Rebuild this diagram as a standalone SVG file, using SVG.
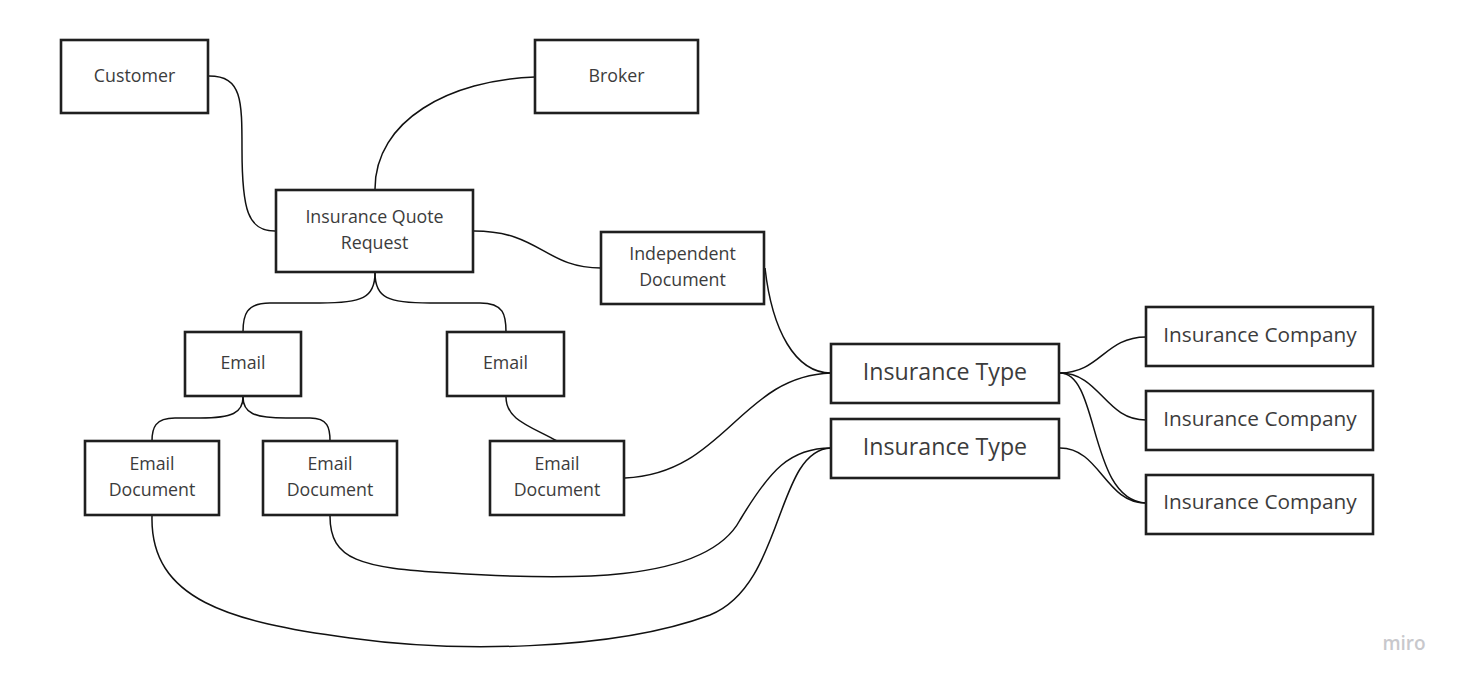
<svg xmlns="http://www.w3.org/2000/svg" width="1461" height="683" viewBox="0 0 1461 683">
<style>
.box{fill:#fff;stroke:#1f1f1f;stroke-width:2.6}
.t{font-family:"Open Sans","Noto Sans",sans-serif;font-size:17.8px;fill:#3c3c3c;text-anchor:middle}
.tl{font-family:"Open Sans","Noto Sans",sans-serif;font-size:23.2px;fill:#3c3c3c;text-anchor:middle}
.tm{font-family:"Open Sans","Noto Sans",sans-serif;font-size:20.8px;fill:#3c3c3c;text-anchor:middle}
.c{fill:none;stroke:#111;stroke-width:1.5}
</style>
<rect width="1461" height="683" fill="#fff"/>
<g id="connectors">
<path class="c" d="M209,76 C242,76 242,100 242,150 C242,210 248,231 275,231"/>
<path class="c" d="M535,77 C450,80 375,120 375,189"/>
<path class="c" d="M474,231 C540,231 545,268 601,268"/>
<path class="c" d="M375,273 C375,298 362,303 320,303 L270,303 C246,303 243,315 243,332"/>
<path class="c" d="M375,273 C375,298 388,303 430,303 L480,303 C504,303 506,315 506,332"/>
<path class="c" d="M243,397 C243,413 232,418 200,418 L175,418 C155,418 152,428 152,441"/>
<path class="c" d="M243,397 C243,413 254,418 286,418 L310,418 C328,418 330,428 330,441"/>
<path class="c" d="M506,397 C506,420 530,426 557,441"/>
<path class="c" d="M765,268 C772,330 795,373 831,373"/>
<path class="c" d="M625,478 C725,474 740,376 831,373"/>
<path class="c" d="M330,516 C330,560 360,568 450,573 C560,580 705,585 740,520 C770,470 790,448 831,448"/>
<path class="c" d="M152,516 C150,600 230,622 350,638 C450,652 610,652 710,615 C785,585 775,450 831,448"/>
<path class="c" d="M1060,373 C1100,373 1105,337 1146,337"/>
<path class="c" d="M1060,373 C1100,373 1105,420 1146,420"/>
<path class="c" d="M1060,373 C1100,373 1088,500 1146,503"/>
<path class="c" d="M1060,448 C1100,448 1105,503 1146,503"/>
</g>
<g id="customer"><rect class="box" x="61" y="40" width="147" height="73"/><text class="t" x="134.5" y="82">Customer</text></g>
<g id="broker"><rect class="box" x="535" y="40" width="163" height="73"/><text class="t" x="616.5" y="82">Broker</text></g>
<g id="quote-request"><rect class="box" x="276" y="190" width="197" height="82"/><text class="t" x="374.5" y="223">Insurance Quote</text><text class="t" x="374.5" y="249">Request</text></g>
<g id="independent-document"><rect class="box" x="601" y="232" width="163" height="72"/><text class="t" x="682.5" y="260">Independent</text><text class="t" x="682.5" y="286">Document</text></g>
<g id="email-1"><rect class="box" x="185" y="332" width="116" height="64"/><text class="t" x="243" y="369">Email</text></g>
<g id="email-2"><rect class="box" x="447" y="332" width="117" height="64"/><text class="t" x="505.5" y="369">Email</text></g>
<g id="email-document-1"><rect class="box" x="85" y="441" width="134" height="74"/><text class="t" x="152" y="470">Email</text><text class="t" x="152" y="496">Document</text></g>
<g id="email-document-2"><rect class="box" x="263" y="441" width="134" height="74"/><text class="t" x="330" y="470">Email</text><text class="t" x="330" y="496">Document</text></g>
<g id="email-document-3"><rect class="box" x="490" y="441" width="134" height="74"/><text class="t" x="557" y="470">Email</text><text class="t" x="557" y="496">Document</text></g>
<g id="insurance-type-1"><rect class="box" x="831" y="344" width="228" height="59"/><text class="tl" x="945" y="380">Insurance Type</text></g>
<g id="insurance-type-2"><rect class="box" x="831" y="419" width="228" height="59"/><text class="tl" x="945" y="455">Insurance Type</text></g>
<g id="insurance-company-1"><rect class="box" x="1146" y="307" width="227" height="59"/><text class="tm" x="1260" y="342">Insurance Company</text></g>
<g id="insurance-company-2"><rect class="box" x="1146" y="391" width="227" height="59"/><text class="tm" x="1260" y="426">Insurance Company</text></g>
<g id="insurance-company-3"><rect class="box" x="1146" y="475" width="227" height="59"/><text class="tm" x="1260" y="509">Insurance Company</text></g>
<text x="1404" y="650" font-family="'Open Sans','Noto Sans',sans-serif" font-size="19" font-weight="600" fill="#c8c8cc" text-anchor="middle">miro</text>
</svg>
